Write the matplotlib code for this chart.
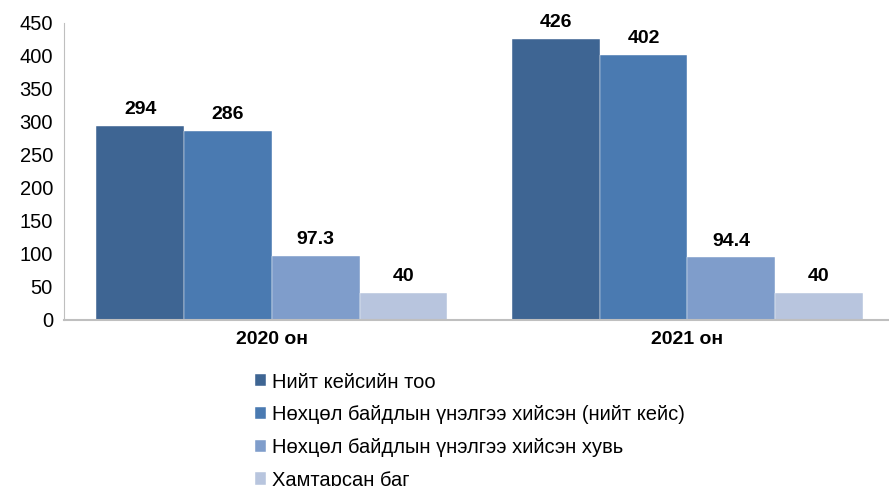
import matplotlib
matplotlib.use('Agg')
import matplotlib.pyplot as plt
import numpy as np

plt.rcParams['font.family'] = ['Liberation Sans', 'DejaVu Sans']

years = ['2020 он', '2021 он']
series = ['Нийт кейсийн тоо',
          'Нөхцөл байдлын үнэлгээ хийсэн (нийт кейс)',
          'Нөхцөл байдлын үнэлгээ хийсэн хувь',
          'Хамтарсан баг']
total_cases = [294, 426]
assessed_cases = [286, 402]
assessed_pct = [97.3, 94.4]
joint_team = [40, 40]
labels = [['294', '426'], ['286', '402'], ['97.3', '94.4'], ['40', '40']]

colors = ['#3E6593', '#4A7AB1', '#7F9DCB', '#B8C5DE']
values = [total_cases, assessed_cases, assessed_pct, joint_team]

fig = plt.figure(figsize=(8.89, 4.86), dpi=100)
ax = fig.add_axes([0.072, 0.342, 0.935, 0.611])

x = np.arange(len(years))
w = 0.211
for i, (vals, c) in enumerate(zip(values, colors)):
    pos = x + (i - 1.5) * w
    ax.bar(pos, vals, width=w, color=c, label=series[i], edgecolor='white', linewidth=0.3)
    for p, v, t in zip(pos, vals, labels[i]):
        ax.text(p, v + 12, t, ha='center', va='bottom', fontsize=14, fontweight='bold')

ax.set_xlim(-0.5, 1.5)
ax.set_ylim(0, 450)
ax.set_yticks(range(0, 451, 50))
ax.set_xticks(x)
ax.set_xticklabels(years, fontsize=14, fontweight='bold')
ax.tick_params(axis='y', length=0, labelsize=14.5, pad=8)
ax.tick_params(axis='x', length=0, pad=8)
ax.spines['top'].set_visible(False)
ax.spines['right'].set_visible(False)
ax.spines['left'].set_color('#BFBFBF')
ax.spines['bottom'].set_color('#BFBFBF')
ax.spines['bottom'].set_linewidth(1.5)

fig.legend(loc='upper left', bbox_to_anchor=(0.278, 0.25), frameon=False,
           fontsize=14.5, handlelength=0.55, handleheight=0.55, handletextpad=0.3,
           labelspacing=0.68, borderaxespad=0)

fig.savefig('out.png', dpi=100)
